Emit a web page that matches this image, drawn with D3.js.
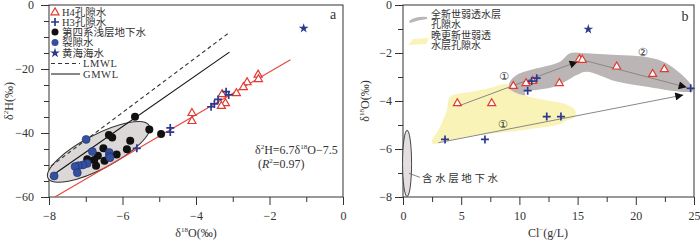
<!DOCTYPE html>
<html>
<head>
<meta charset="utf-8">
<script src="https://cdn.jsdelivr.net/npm/d3@7"></script>
<style>
    body { margin: 0; background: #fff; }
    svg text { font-family: "Liberation Serif", "Noto Sans CJK SC", serif; fill: #333; }
</style>
</head>
<body>
<div id="chart"></div>
<script>
// ---- panel a: δ18O vs δ2H ----
const h4A = [[-2.31, -21.8], [-2.30, -23.2], [-2.61, -24.2], [-2.71, -25.7], [-2.90, -27.6], [-3.29, -27.9],
    [-3.20, -30.7], [-3.31, -31.6], [-4.11, -33.8], [-4.11, -36.3]];
const h3A = [[-3.18, -27.1], [-3.11, -28.1], [-3.40, -29.5], [-3.50, -30.9], [-3.59, -31.8],
    [-4.70, -38.4], [-4.70, -39.7], [-5.61, -44.8]];
const shallowA = [[-5.66, -34.9], [-5.27, -38.9], [-4.95, -40.3], [-6.37, -40.6], [-6.28, -41.4], [-5.79, -42.4],
    [-5.88, -45.1], [-6.52, -44.8], [-6.16, -46.7], [-6.67, -47.1], [-6.96, -48.2], [-6.77, -48.4],
    [-6.49, -48.7], [-6.72, -50.2]];
const fissureA = [[-6.99, -42.0], [-6.82, -45.8], [-6.36, -46.1], [-6.36, -47.2], [-6.34, -47.7], [-6.96, -49.5],
    [-7.08, -50.0], [-7.20, -50.2], [-7.29, -50.5], [-7.23, -52.4], [-7.86, -53.4]];
const seaA = [[-1.07, -7.3]];
// water lines: slope, intercept, x range
const lmwl = { k: 8.6, b: 18, x: [-7.95, -3.12] };
const gmwl = { k: 8, b: 10, x: [-7.97, -3.09] };
const fitA = { k: 6.7, b: -7.5, x: [-7.84, -1.43] };
const ellipseA = { cx: -6.65, cy: -45.9 };

// ---- panel b: Cl- vs δ18O ----
const h4B = [[4.67, -4.10], [7.62, -4.10], [9.48, -3.38], [10.57, -3.26], [11.14, -3.17], [13.43, -3.26],
    [15.15, -2.26], [15.40, -2.29], [18.36, -2.57], [21.45, -2.88], [22.45, -2.68]];
const h3B = [[11.49, -3.05], [11.06, -3.17], [10.71, -3.57], [24.71, -3.47], [3.61, -5.6], [7.04, -5.6],
    [12.35, -4.65], [13.57, -4.65]];
const seaB = [[15.92, -1.01]];
const arrowsB = [
    [[4.75, -4.21], [15.0, -2.36]],
    [[15.2, -2.26], [24.37, -3.43]],
    [[3.03, -5.74], [24.08, -3.75]]
];
const holoceneArea = [[9.13, -3.26], [9.77, -2.92], [11.49, -2.64], [13.49, -2.36], [14.35, -2.01], [15.49, -2.01],
    [18.36, -2.08], [20.65, -2.15], [22.36, -2.36], [23.65, -2.78], [24.66, -3.26], [24.94, -3.57],
    [23.80, -3.61], [21.22, -3.43], [18.36, -3.19], [15.78, -2.78], [14.92, -2.92], [13.20, -3.38],
    [11.49, -3.54], [10.48, -3.61], [10.48, -3.75], [9.19, -3.51]];
const pleistoceneArea = [[4.04, -3.83], [5.76, -3.63], [7.47, -3.46], [8.76, -3.29], [9.62, -3.38], [10.48, -3.75],
    [12.20, -3.96], [13.92, -4.13], [14.78, -4.38], [14.78, -4.67], [14.18, -4.79], [13.23, -5.0],
    [11.51, -5.13], [9.79, -5.25], [8.08, -5.33], [6.36, -5.42], [4.04, -5.63], [2.58, -5.79],
    [2.49, -5.67], [3.18, -5.08], [3.78, -4.38]];
const aquiferB = { cx: 0.35, cy: -6.6, dy: 1.38 };
const labelsB = [{ t: '①', x: 8.68, y: -2.96 }, { t: '②', x: 20.6, y: -1.96 }, { t: '①', x: 8.57, y: -4.96 }];

const svg = d3.select('#chart').append('svg').attr('width', 700).attr('height', 240);

const xA = d3.scaleLinear().domain([-8, 0]).range([49, 343]);
const yA = d3.scaleLinear().domain([-60, 0]).range([197, 5]);
const xB = d3.scaleLinear().domain([0, 25]).range([403, 694]);
const yB = d3.scaleLinear().domain([-8, 0]).range([197, 5]);

const fmt = d => d3.format('')(d);

function axes(x, y, xMaj, xMin, yMaj, yMin, yPad) {
    const g = svg.append('g');
    const b = y.range()[0], l = x.range()[0];
    g.append('g').attr('transform', `translate(0,${b})`)
        .call(d3.axisBottom(x).tickValues(xMin).tickSize(5).tickFormat(''));
    g.append('g').attr('transform', `translate(0,${b})`)
        .call(d3.axisBottom(x).tickValues(xMaj).tickSize(8).tickPadding(6).tickFormat(fmt));
    g.append('g').attr('transform', `translate(${l},0)`)
        .call(d3.axisLeft(y).tickValues(yMin).tickSize(5).tickFormat(''));
    g.append('g').attr('transform', `translate(${l},0)`)
        .call(d3.axisLeft(y).tickValues(yMaj).tickSize(8).tickPadding(yPad).tickFormat(fmt));
    g.selectAll('.domain').remove();
    g.selectAll('line').attr('stroke', '#333');
    g.selectAll('text').attr('font-size', 12).attr('fill', '#333')
        .style('font-family', '"Liberation Serif", serif');
    svg.append('rect').attr('x', l).attr('y', y.range()[1])
        .attr('width', x.range()[1] - l).attr('height', b - y.range()[1])
        .attr('fill', 'none').attr('stroke', '#333').attr('stroke-width', 1);
}

axes(xA, yA, d3.range(-8, 0.1, 2), d3.range(-7, 0, 2), d3.range(-60, 0.1, 20), d3.range(-55, 0, 5), 7);
axes(xB, yB, d3.range(0, 25.1, 5), d3.range(2.5, 25, 5), d3.range(-8, 0.1, 2), d3.range(-7, 0, 1), 3);

// symbols
const tri = d3.symbol().type(d3.symbolTriangle).size(28);
const star = d3.symbol().type(d3.symbolStar).size(30);
function drawH4(g, data, x, y) {
    g.selectAll(null).data(data).join('path').attr('d', tri)
        .attr('transform', d => `translate(${x(d[0])},${y(d[1])})`)
        .attr('fill', '#fff').attr('stroke', '#e03a30').attr('stroke-width', 1.2);
}
function drawH3(g, data, x, y) {
    g.selectAll(null).data(data).join('path').attr('d', 'M-4,0H4M0,-4V4')
        .attr('transform', d => `translate(${x(d[0])},${y(d[1])})`)
        .attr('stroke', '#2b3a8c').attr('stroke-width', 1.7);
}
function drawStar(g, data, x, y) {
    g.selectAll(null).data(data).join('path').attr('d', star)
        .attr('transform', d => `translate(${x(d[0])},${y(d[1])})`).attr('fill', '#2d3a8a');
}

// ---- panel a marks ----
const gA = svg.append('g');
gA.append('ellipse').attr('cx', xA(ellipseA.cx)).attr('cy', yA(ellipseA.cy)).attr('rx', 57).attr('ry', 17)
    .attr('transform', `rotate(-27.5,${xA(ellipseA.cx)},${yA(ellipseA.cy)})`)
    .attr('fill', '#dcd8d8').attr('stroke', '#333').attr('stroke-width', 1);
[[lmwl, '#333', '4,3'], [gmwl, '#111', null], [fitA, '#e8453c', null]].forEach(([ln, col, dash]) => {
    gA.append('line').attr('x1', xA(ln.x[0])).attr('y1', yA(ln.k * ln.x[0] + ln.b))
        .attr('x2', xA(ln.x[1])).attr('y2', yA(ln.k * ln.x[1] + ln.b))
        .attr('stroke', col).attr('stroke-width', 1.1).attr('stroke-dasharray', dash);
});
gA.selectAll(null).data(shallowA).join('circle').attr('cx', d => xA(d[0])).attr('cy', d => yA(d[1]))
    .attr('r', 4).attr('fill', '#111');
gA.selectAll(null).data(fissureA).join('circle').attr('cx', d => xA(d[0])).attr('cy', d => yA(d[1]))
    .attr('r', 4).attr('fill', '#34509e').attr('stroke', '#1f2f6a').attr('stroke-width', 0.6);
drawH4(gA, h4A, xA, yA);
drawH3(gA, h3A, xA, yA);
drawStar(gA, seaA, xA, yA);

// legend a
const legA = svg.append('g').attr('font-size', 10.5);
const rowsA = [12, 22, 32, 42.5, 53];
drawH4(legA, [[0, 0]], () => 55, () => rowsA[0] + 0.5);
drawH3(legA, [[0, 0]], () => 55, () => rowsA[1]);
legA.append('circle').attr('cx', 55).attr('cy', rowsA[2]).attr('r', 3.5).attr('fill', '#111');
legA.append('circle').attr('cx', 55).attr('cy', rowsA[3]).attr('r', 3.5).attr('fill', '#34509e');
drawStar(legA, [[0, 0]], () => 55, () => rowsA[4]);
['H4孔隙水', 'H3孔隙水', '第四系浅层地下水', '裂隙水', '黄海海水'].forEach((t, i) => {
    legA.append('text').attr('x', 62).attr('y', rowsA[i]).attr('dy', '0.35em').text(t);
});
legA.append('line').attr('x1', 51).attr('x2', 80).attr('y1', 63.5).attr('y2', 63.5)
    .attr('stroke', '#333').attr('stroke-dasharray', '4,3');
legA.append('line').attr('x1', 51).attr('x2', 80).attr('y1', 74).attr('y2', 74).attr('stroke', '#111');
legA.append('text').attr('x', 83).attr('y', 63.5).attr('dy', '0.35em').attr('letter-spacing', 0.6).text('LMWL');
legA.append('text').attr('x', 83).attr('y', 74).attr('dy', '0.35em').attr('letter-spacing', 0.6).text('GMWL');

svg.append('text').attr('x', 333).attr('y', 19).attr('font-size', 14).attr('text-anchor', 'middle').text('a');
const eq = svg.append('text').attr('x', 255).attr('y', 154).attr('font-size', 12);
eq.append('tspan').text('δ');
eq.append('tspan').attr('font-size', 7).attr('dy', -5).text('2');
eq.append('tspan').attr('dy', 5).text('H=6.7δ');
eq.append('tspan').attr('font-size', 7).attr('dy', -5).text('18');
eq.append('tspan').attr('dy', 5).text('O−7.5');
const r2 = svg.append('text').attr('x', 258).attr('y', 168).attr('font-size', 12);
r2.append('tspan').text('(');
r2.append('tspan').attr('font-style', 'italic').text('R');
r2.append('tspan').attr('font-size', 7).attr('dy', -5).text('2');
r2.append('tspan').attr('dy', 5).text('=0.97)');

// axis titles a
const xtA = svg.append('text').attr('x', 196).attr('y', 237).attr('font-size', 12).attr('text-anchor', 'middle');
xtA.append('tspan').text('δ');
xtA.append('tspan').attr('font-size', 7).attr('dy', -5).text('18');
xtA.append('tspan').attr('dy', 5).text('O(‰)');
const ytA = svg.append('text').attr('transform', 'translate(13,101) rotate(-90)').attr('font-size', 12).attr('text-anchor', 'middle');
ytA.append('tspan').text('δ');
ytA.append('tspan').attr('font-size', 7).attr('dy', -5).text('2');
ytA.append('tspan').attr('dy', 5).text('H(‰)');

// ---- panel b marks ----
const gB = svg.append('g');
const area = d3.line().x(d => xB(d[0])).y(d => yB(d[1])).curve(d3.curveCatmullRomClosed);
gB.append('path').attr('d', area(pleistoceneArea)).attr('fill', '#faf3b8');
gB.append('path').attr('d', area(holoceneArea)).attr('fill', '#bcb5b5');
gB.append('ellipse').attr('cx', xB(aquiferB.cx)).attr('cy', yB(aquiferB.cy))
    .attr('rx', 4.5).attr('ry', yB(aquiferB.cy - aquiferB.dy) - yB(aquiferB.cy))
    .attr('fill', '#e4dfdf').attr('stroke', '#333').attr('stroke-width', 0.9);
gB.append('line').attr('x1', xB(aquiferB.cx) + 2).attr('y1', yB(aquiferB.cy) + 10)
    .attr('x2', xB(aquiferB.cx) + 13).attr('y2', yB(aquiferB.cy) + 14).attr('stroke', '#666').attr('stroke-width', 0.8);
gB.append('text').attr('x', xB(aquiferB.cx) + 15).attr('y', yB(aquiferB.cy) + 15).attr('dy', '0.35em')
    .attr('font-size', 10.5).attr('letter-spacing', 2.6).text('含水层地下水');

svg.append('defs').append('marker').attr('id', 'arr').attr('viewBox', '0 0 10 10')
    .attr('refX', 10).attr('refY', 5).attr('markerWidth', 9).attr('markerHeight', 8)
    .attr('markerUnits', 'userSpaceOnUse').attr('orient', 'auto')
    .append('path').attr('d', 'M0,0L10,5L0,10Z').attr('fill', '#111');
gB.selectAll(null).data(arrowsB).join('line')
    .attr('x1', d => xB(d[0][0])).attr('y1', d => yB(d[0][1]))
    .attr('x2', d => xB(d[1][0])).attr('y2', d => yB(d[1][1]))
    .attr('stroke', '#888').attr('stroke-width', 1).attr('marker-end', 'url(#arr)');
gB.selectAll(null).data(labelsB).join('text').attr('x', d => xB(d.x)).attr('y', d => yB(d.y))
    .attr('dy', '0.35em').attr('text-anchor', 'middle').attr('font-size', 11)
    .style('font-family', '"DejaVu Sans", "Noto Sans CJK SC", sans-serif').attr('fill', '#444').text(d => d.t);
drawH4(gB, h4B, xB, yB);
drawH3(gB, h3B, xB, yB);
drawStar(gB, seaB, xB, yB);

// legend b
const legB = svg.append('g').attr('font-size', 10);
legB.append('path').attr('d', 'M409,21 Q416,16 427,17 L427,19 Q418,20 410,23 Z').attr('fill', '#bcb5b5');
legB.append('path').attr('d', 'M408,45 L413,39 L429,38 L426,44 Z').attr('fill', '#faf3b8');
[['全新世弱透水层', 14], ['孔隙水', 24], ['晚更新世弱透', 35], ['水层孔隙水', 45]].forEach(([t, y]) => {
    legB.append('text').attr('x', 431).attr('y', y).attr('dy', '0.35em').text(t);
});
svg.append('text').attr('x', 685).attr('y', 21).attr('font-size', 14).attr('text-anchor', 'middle').text('b');

// axis titles b
const xtB = svg.append('text').attr('x', 548).attr('y', 237).attr('font-size', 12).attr('text-anchor', 'middle');
xtB.append('tspan').text('Cl');
xtB.append('tspan').attr('font-size', 7).attr('dy', -5).text('−');
xtB.append('tspan').attr('dy', 5).text('(g/L)');
const ytB = svg.append('text').attr('transform', 'translate(369,101) rotate(-90)').attr('font-size', 12).attr('text-anchor', 'middle');
ytB.append('tspan').text('δ');
ytB.append('tspan').attr('font-size', 7).attr('dy', -5).text('18');
ytB.append('tspan').attr('dy', 5).text('O(‰)');
</script>
</body>
</html>
